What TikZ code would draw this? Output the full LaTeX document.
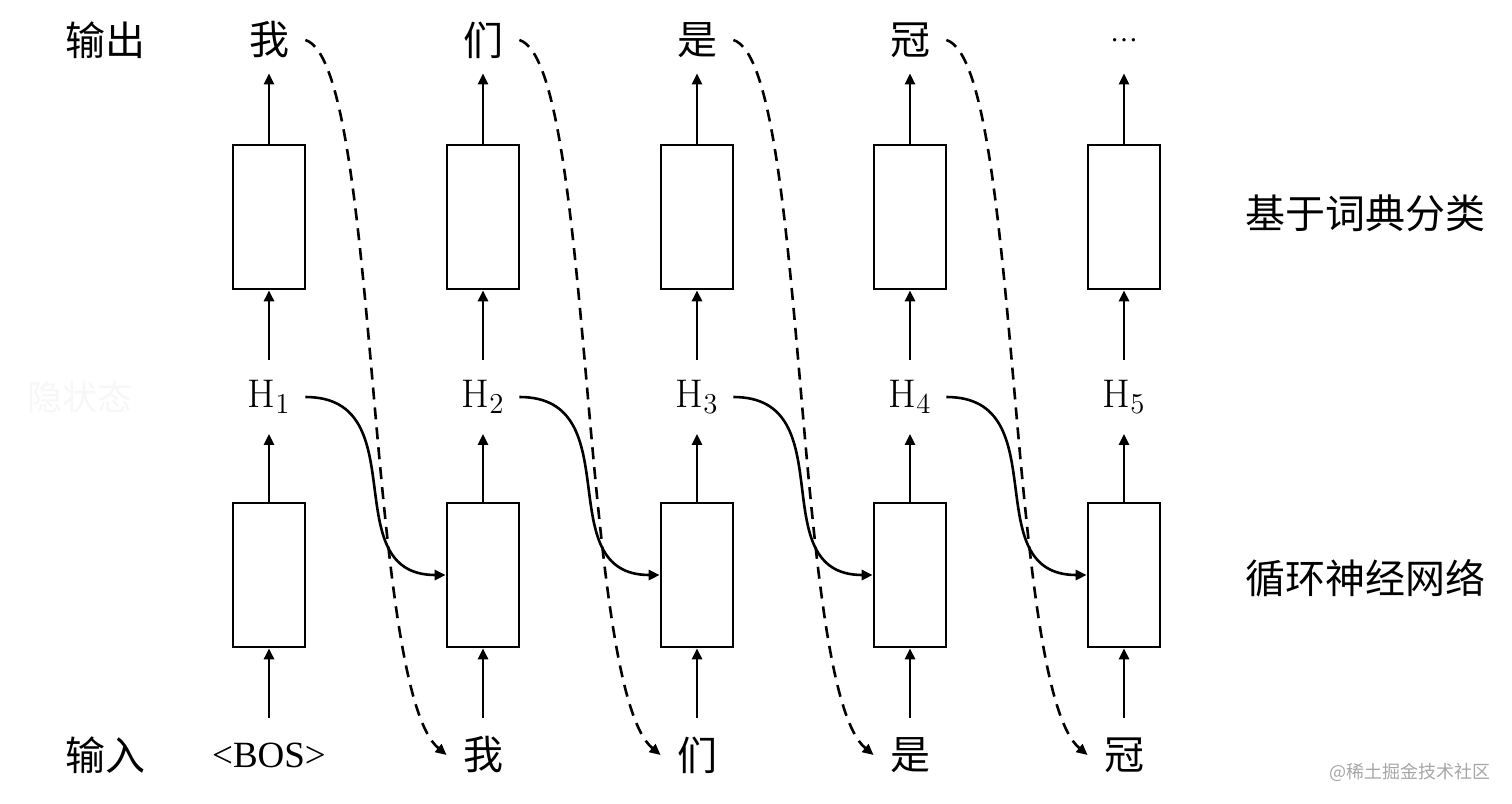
\documentclass[tikz,border=0pt]{standalone}
\usepackage{fontspec}
\usetikzlibrary{arrows.meta}
\newfontfamily\cjk{Noto Sans CJK SC}
\newfontfamily\tnr{Liberation Serif}

\begin{document}
\begin{tikzpicture}[x=0.5pt, y=-0.5pt,
        cell/.style={draw, line width=1.3pt, minimum width=36pt, minimum height=72pt, inner sep=0pt},
        word/.style={inner sep=0pt, minimum width=36pt, font=\cjk\fontsize{20}{24}\selectfont},
        outw/.style={word, minimum height=33pt},
        inw/.style={word, minimum height=37pt},
        hid/.style={inner sep=0pt, minimum width=36pt, minimum height=36.5pt, font=\fontsize{20}{24}\selectfont},
        side/.style={font=\cjk\fontsize{20}{24}\selectfont},
        flow/.style={-{Triangle[length=5.5pt, width=5pt]}, line width=1.3pt},
        feed/.style={flow, dash pattern=on 6pt off 4pt}]
        \useasboundingbox (0,0) rectangle (1512,804);

        % Boxes and hidden states, one column per step
        \foreach \n/\x in {1/269, 2/483, 3/697, 4/910, 5/1124} {
            \node[cell] (cls\n) at (\x,217) {};
            \node[cell] (rnn\n) at (\x,575) {};
            \node[hid] (h\n) at (\x,397) {$\mathrm{H}_{\n}$};
        }

        % Outputs (top)
        \node[outw] (out1) at (269,40) {我};
        \node[outw] (out2) at (483,40) {们};
        \node[outw] (out3) at (697,40) {是};
        \node[outw] (out4) at (910,40) {冠};
        \node[outw] (out5) at (1124,40) {\tnr\fontsize{14}{16}\selectfont\ldots};

        % Inputs (bottom)
        \node[inw, font=\tnr\fontsize{18.5}{22}\selectfont] (in1) at (269,755) {<BOS>};
        \node[inw] (in2) at (483,755) {我};
        \node[inw] (in3) at (697,755) {们};
        \node[inw] (in4) at (910,755) {是};
        \node[inw] (in5) at (1124,755) {冠};

        % Row and layer labels
        \node[side] (outlbl) at (105,40) {输出};
        \node[side] (inlbl) at (105,755) {输入};
        \node[side, text=black!3, font=\cjk\fontsize{17.5}{20}\selectfont] (hidlbl) at (80,397) {隐状态};
        \node[side] (clslbl) at (1365,213) {基于词典分类};
        \node[side] (rnnlbl) at (1365,578) {循环神经网络};
        \node[text=black!35, font=\cjk\fontsize{9}{11}\selectfont] (mark) at (1410,772) {@稀土掘金技术社区};

        % Upward arrows
        \foreach \n in {1,...,5} {
            \draw[flow] (in\n) -- (rnn\n);
            \draw[flow] (rnn\n) -- (h\n);
            \draw[flow] (h\n) -- (cls\n);
            \draw[flow] (cls\n) -- (out\n);
        }

        % Hidden state to next step, output fed back as next input
        \foreach \n [count=\m from 2] in {1,...,4} {
            \draw[flow] (h\n.east) .. controls +(112,0) and +(-112,0) .. (rnn\m.west);
            \draw[feed] (out\n.east) .. controls +(75,23) and +(-82,-68) .. (in\m.west);
        }

    \end{tikzpicture}
\end{document}
